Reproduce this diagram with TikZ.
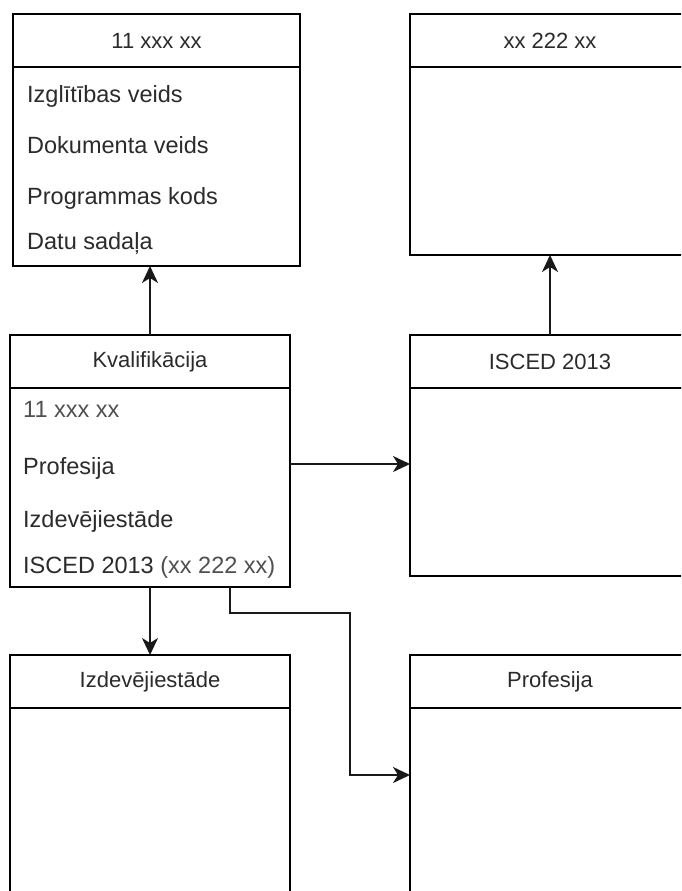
\documentclass[tikz,border=0pt]{standalone}
\usepackage{fontspec}
\setmainfont{Liberation Sans}
\usetikzlibrary{arrows.meta}
\definecolor{txt}{HTML}{2b2b2b}
\definecolor{txtl}{HTML}{505050}
\tikzset{
  hdr/.style={draw=black, line width=2pt, rectangle, inner sep=0pt, outer sep=0pt, minimum height=53pt, text=txt, font=\fontsize{22}{26}\selectfont},
  bodybox/.style={draw=black, line width=2pt, rectangle, inner sep=0pt, outer sep=0pt},
  rowtxt/.style={anchor=base west, inner sep=0pt, text=txt, font=\fontsize{23.5}{28}\selectfont},
  arr/.style={draw=black!90, line width=2pt, -{Stealth[length=17pt, width=16pt, inset=5pt]}}
}
\begin{document}
\begin{tikzpicture}[x=1pt, y=-1pt]
\useasboundingbox (0,0) rectangle (681,891);
\clip (0,0) rectangle (681,891);
\fill[white] (0,0) rectangle (681,891);

% Box 1
\node[hdr, minimum width=287pt] (h1) at (156.5,40.5) {11 xxx xx};
\node[bodybox, minimum width=287pt, minimum height=199pt] (b1) at (156.5,166.5) {};
\node[rowtxt] (r11) at (27,102) {Izglītības veids};
\node[rowtxt] (r12) at (27,153) {Dokumenta veids};
\node[rowtxt] (r13) at (27,204) {Programmas kods};
\node[rowtxt] (r14) at (27,249) {Datu sadaļa};

% Box 2
\node[hdr, minimum width=280pt] (h2) at (550,40.5) {xx 222 xx};
\node[bodybox, minimum width=280pt, minimum height=188pt] (b2) at (550,161) {};

% Box 3
\node[hdr, minimum width=280pt] (h3) at (150,361.5) {Kvalifikācija};
\node[bodybox, minimum width=280pt, minimum height=199pt] (b3) at (150,487.5) {};
\node[rowtxt, text=txtl] (r31) at (23,417) {11 xxx xx};
\node[rowtxt] (r32) at (23,474) {Profesija};
\node[rowtxt] (r33) at (23,527) {Izdevējiestāde};
\node[rowtxt] (r34) at (23,573) {ISCED 2013 \textcolor{txtl}{(xx 222 xx)}};

% Box 4
\node[hdr, minimum width=280pt] (h4) at (550,361.5) {ISCED 2013};
\node[bodybox, minimum width=280pt, minimum height=188pt] (b4) at (550,482) {};

% Box 5
\node[hdr, minimum width=280pt] (h5) at (150,681.5) {Izdevējiestāde};
\node[bodybox, minimum width=280pt, minimum height=250pt] (b5) at (150,833) {};

% Box 6
\node[hdr, minimum width=280pt] (h6) at (550,681.5) {Profesija};
\node[bodybox, minimum width=280pt, minimum height=250pt] (b6) at (550,833) {};

% connectors
\coordinate (yh) at (0,464);
\coordinate (k0) at (230,0);
\coordinate (k1) at (350,613);
\coordinate (k2) at (0,775);

\draw[arr] (h3.north) -- (h3.north |- b1.south);
\draw[arr] (h4.north) -- (h4.north |- b2.south);
\draw[arr] (b3.east |- yh) -- (b4.west |- yh);
\draw[arr] (b3.south) -- (h5.north);
\draw[arr] (b3.south -| k0) |- (k1) |- (b6.west |- k2);
\end{tikzpicture}
\end{document}
